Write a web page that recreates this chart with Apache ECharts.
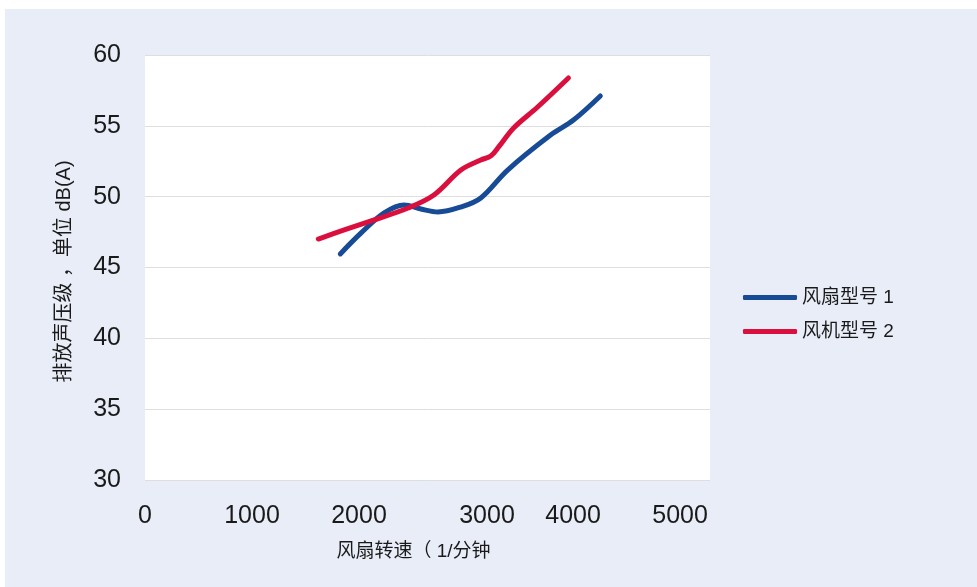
<!DOCTYPE html>
<html>
<head>
<meta charset="utf-8">
<script src="https://cdn.jsdelivr.net/npm/echarts@6/dist/echarts.min.js"></script>
<style>
  html, body { margin: 0; padding: 0; background: #ffffff; }
  #chart { width: 977px; height: 587px; }
</style>
</head>
<body>
<div id="chart"></div>
<script>
// Fan speed (rpm) vs. emitted sound pressure level, dB(A)
const seriesNames = ['风扇型号 1', '风机型号 2'];

const fan1Speed = [1825, 2020, 2235, 2421, 2579, 2737, 2952, 3138, 3389, 3790, 4004, 4255];
const fan1Level = [45.96, 47.44, 48.85, 49.41, 49.13, 48.92, 49.27, 49.91, 51.88, 54.35, 55.41, 57.11];

const fan2Speed = [1620, 1862, 2114, 2458, 2700, 2952, 3138, 3231, 3305, 3445, 3669, 3957];
const fan2Level = [47.01, 47.65, 48.29, 49.20, 50.12, 51.88, 52.59, 52.87, 53.51, 54.85, 56.33, 58.38];

const xTicks = [0, 1000, 2000, 3000, 4000, 5000];
const yTicks = [30, 35, 40, 45, 50, 55, 60];

const font = 'Arial, "Liberation Sans", "Noto Sans CJK SC", sans-serif';
const blue = '#174b96';
const red = '#da0f3d';

function pairs(xs, ys) { return xs.map((x, i) => [x, ys[i]]); }

const chart = echarts.init(document.getElementById('chart'), null, { renderer: 'canvas' });
chart.setOption({
  backgroundColor: '#ffffff',
  animation: false,
  graphic: [{
    type: 'rect', z: -10, silent: true,
    shape: { x: 5, y: 9, width: 972, height: 578 },
    style: { fill: '#e9edf7' }
  }, {
    type: 'rect', z: -5, silent: true,
    shape: { x: 145, y: 55, width: 565, height: 425 },
    style: { fill: '#ffffff' }
  }],
  grid: { left: 145, right: 267, top: 55, bottom: 107, containLabel: false },
  legend: {
    orient: 'vertical',
    left: 738, top: 283,
    itemWidth: 54, itemHeight: 5,
    itemGap: 15,
    icon: 'roundRect',
    textStyle: { fontFamily: font, fontSize: 19, color: '#1a1a1a', padding: [0, 0, 0, 0] },
    data: seriesNames
  },
  xAxis: {
    type: 'value',
    min: 0, max: 5280, interval: 1000,
    name: '风扇转速（ 1/分钟',
    nameLocation: 'middle', nameGap: 62,
    nameTextStyle: { fontFamily: font, fontSize: 19, color: '#1a1a1a', padding: [0, 28, 0, 0] },
    axisLine: { show: false }, axisTick: { show: false }, splitLine: { show: false },
    axisLabel: {
      fontFamily: font, fontSize: 25, color: '#1a1a1a', margin: 24,
      formatter: v => (xTicks.indexOf(v) < 0 ? '' : (v === 3000 ? '{shift|' + v + '}' : String(v))),
      rich: { shift: { fontFamily: font, fontSize: 25, color: '#1a1a1a', padding: [0, 0, 0, 42] } }
    }
  },
  yAxis: {
    type: 'value',
    min: yTicks[0], max: yTicks[yTicks.length - 1], interval: 5,
    name: '排放声压级 ，单位 dB(A)',
    nameLocation: 'middle', nameGap: 71, nameRotate: 90,
    nameTextStyle: { fontFamily: font, fontSize: 20, color: '#1a1a1a', padding: [0, 8, 0, 0] },
    axisLine: { show: false }, axisTick: { show: false },
    splitLine: { lineStyle: { color: '#dedede', width: 1 } },
    axisLabel: { fontFamily: font, fontSize: 25, color: '#1a1a1a', margin: 24 }
  },
  series: [{
    name: seriesNames[0], type: 'line', smooth: 0.35, symbol: 'none',
    data: pairs(fan1Speed, fan1Level),
    color: blue,
    lineStyle: { color: blue, width: 5, cap: 'round', join: 'round' }
  }, {
    name: seriesNames[1], type: 'line', smooth: 0.35, symbol: 'none',
    data: pairs(fan2Speed, fan2Level),
    color: red,
    lineStyle: { color: red, width: 5, cap: 'round', join: 'round' }
  }]
});
</script>
</body>
</html>
